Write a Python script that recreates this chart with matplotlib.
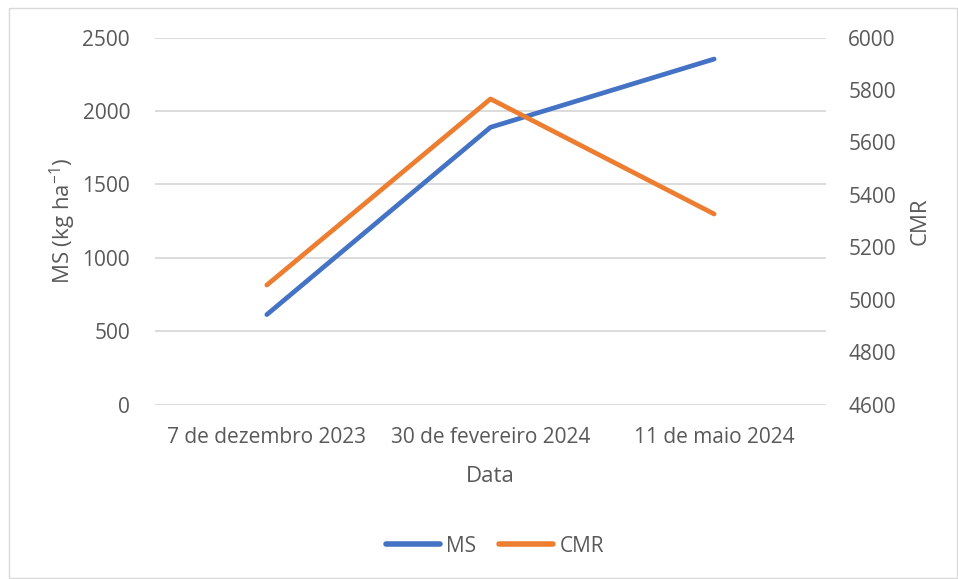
import matplotlib
matplotlib.use("Agg")
import matplotlib.pyplot as plt
from matplotlib.lines import Line2D
from matplotlib.patches import Rectangle

plt.rcParams['font.family'] = ['Open Sans', 'DejaVu Sans']
plt.rcParams['mathtext.fontset'] = 'custom'
plt.rcParams['mathtext.rm'] = 'Open Sans'
plt.rcParams['mathtext.it'] = 'Open Sans'

datas = ['7 de dezembro 2023', '30 de fevereiro 2024', '11 de maio 2024']
ms = [613, 1889, 2354]
cmr = [5056, 5766, 5327]
ms_ticks = [0, 500, 1000, 1500, 2000, 2500]
cmr_ticks = [4600, 4800, 5000, 5200, 5400, 5600, 5800, 6000]

BLUE = '#4472C4'
ORANGE = '#ED7D31'
TXT = '#595959'
GRID = '#D9D9D9'

W, H = 958, 579
fig = plt.figure(figsize=(W / 100, H / 100), dpi=100)

# chart border
fig.patches.append(Rectangle((9 / W, 1 / H), 948 / W, (H - 9) / H,
                             transform=fig.transFigure, fill=False,
                             edgecolor='#D9D9D9', linewidth=1))

ax = fig.add_axes([155 / W, 1 - 404.6 / H, 671 / W, 367 / H])
ax2 = ax.twinx()

x = list(range(len(datas)))
ax.plot(x, ms, color=BLUE, lw=3.4, solid_capstyle='round', solid_joinstyle='round', zorder=3)
ax2.plot(x, cmr, color=ORANGE, lw=3.4, solid_capstyle='round', solid_joinstyle='round', zorder=3)

ax.set_xlim(-0.5, 2.5)
ax.set_ylim(0, 2500)
ax.set_yticks(ms_ticks)
ax2.set_ylim(4600, 6000)
ax2.set_yticks(cmr_ticks)
ax.set_xticks(x)
ax.set_xticklabels(datas)

ax.grid(axis='y', color=GRID, lw=1.3)
ax.set_axisbelow(True)
for a in (ax, ax2):
    for s in a.spines.values():
        s.set_visible(False)
    a.tick_params(length=0, labelsize=15, labelcolor=TXT)
ax.tick_params(axis='y', pad=18)
ax2.tick_params(axis='y', pad=16)
ax.tick_params(axis='x', pad=16)

ax.set_ylabel('MS (kg ha$^{-1}$)', fontsize=16, color=TXT, labelpad=3)
ax2.set_ylabel('CMR', fontsize=16, color=TXT, labelpad=10)
ax.set_xlabel('Data', fontsize=16, color=TXT, labelpad=13)

handles = [Line2D([], [], color=BLUE, lw=4, solid_capstyle='round'),
           Line2D([], [], color=ORANGE, lw=4, solid_capstyle='round')]
fig.legend(handles, ['MS', 'CMR'], loc='center', bbox_to_anchor=(495 / W, 1 - 546 / H),
           ncol=2, frameon=False, fontsize=15, labelcolor=TXT,
           handlelength=2.6, handletextpad=0.3, columnspacing=1.1)

fig.savefig('out.png', dpi=100)
